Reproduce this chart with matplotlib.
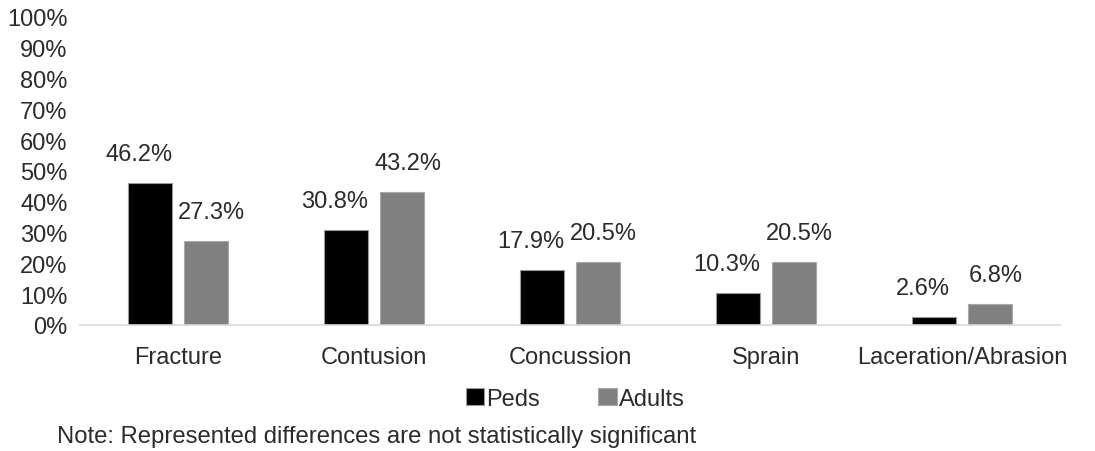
import numpy as np
import matplotlib.pyplot as plt

categories = ["Fracture", "Contusion", "Concussion", "Sprain", "Laceration/Abrasion"]
peds = [46.2, 30.8, 17.9, 10.3, 2.6]
adults = [27.3, 43.2, 20.5, 20.5, 6.8]
y_ticks = list(range(0, 101, 10))

plt.rcParams['font.family'] = ['Liberation Sans', 'DejaVu Sans']
txt = '#2b2b2b'
fs = 17

fig = plt.figure(figsize=(10.95, 4.52), dpi=100)
ax = fig.add_axes([80 / 1095, 1 - 326 / 452, 980 / 1095, 308 / 452])

x = np.arange(len(categories))
w = 0.225
off = 0.143
b1 = ax.bar(x - off, peds, w, color='black', edgecolor='#9a9a9a', linewidth=0.8, label='Peds')
b2 = ax.bar(x + off, adults, w, color='#808080', edgecolor='#a8a8a8', linewidth=0.8, label='Adults')

# Excel nudges the labels sideways a bit
for bars, vals, dx in [(b1, peds, -8), (b2, adults, 4)]:
    for b, v in zip(bars, vals):
        ax.annotate(f"{v}%", (b.get_x() + b.get_width() / 2, v), xytext=(dx, 13),
                    textcoords='offset points', ha='center', va='bottom',
                    fontsize=fs, color=txt)

ax.set_xlim(-0.5, len(categories) - 0.5)
ax.set_ylim(0, 100)
ax.set_yticks(y_ticks)
ax.set_yticklabels([f"{t}%" for t in y_ticks])
ax.set_xticks(x)
ax.set_xticklabels(categories)
ax.tick_params(axis='both', length=0, labelsize=fs, colors=txt)
ax.tick_params(axis='y', pad=9)
ax.tick_params(axis='x', pad=15)
for s in ['top', 'right', 'left']:
    ax.spines[s].set_visible(False)
ax.spines['bottom'].set_color('#d9d9d9')
ax.spines['bottom'].set_linewidth(1.2)

leg = fig.legend(loc='center', bbox_to_anchor=(575 / 1095, 1 - 400 / 452), ncol=2,
                 frameon=False, fontsize=fs, handlelength=0.8, handleheight=0.7,
                 handletextpad=0.05, columnspacing=2.5)
for t in leg.get_texts():
    t.set_color(txt)

fig.text(57 / 1095, 1 - 437 / 452, "Note: Represented differences are not statistically significant",
         fontsize=17.2, color=txt, va='center', ha='left')

fig.savefig('out.png', dpi=100)
